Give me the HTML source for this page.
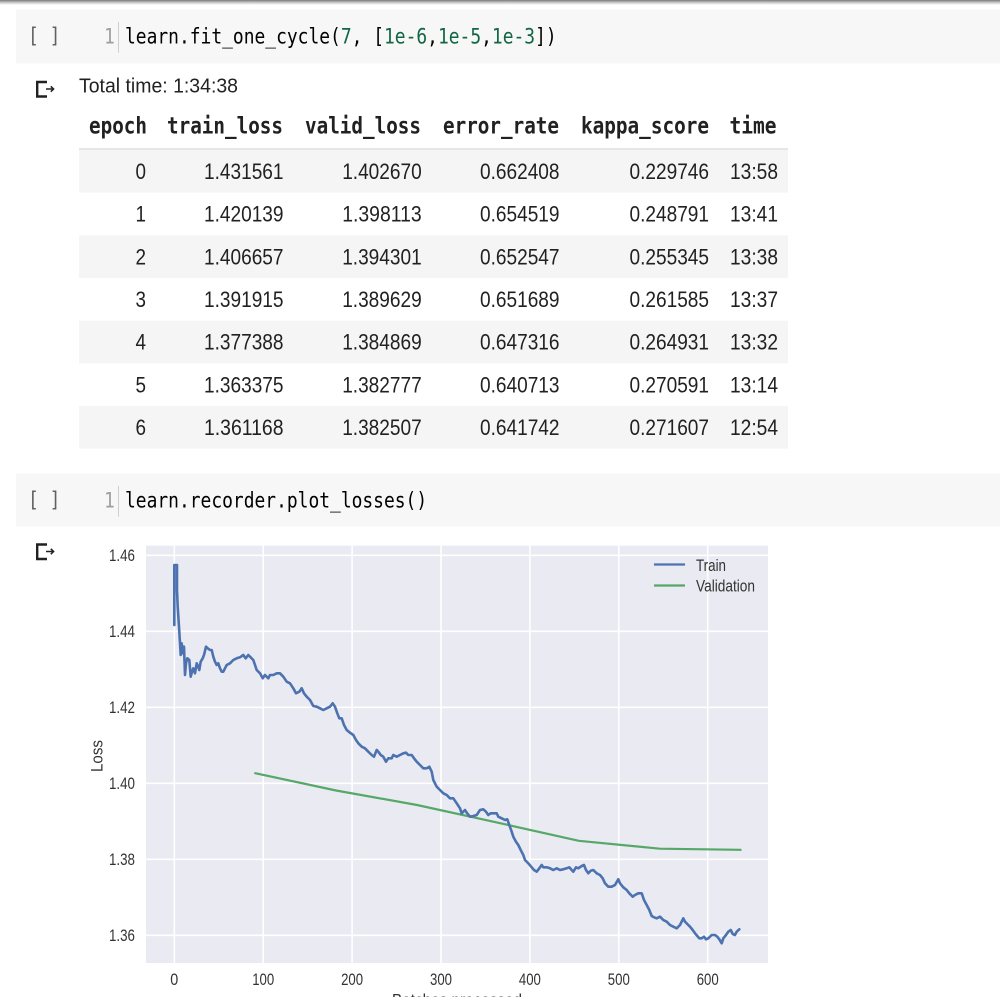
<!DOCTYPE html>
<html>
<head>
<meta charset="utf-8">
<style>
html,body{margin:0;padding:0;background:#fff;}
svg{display:block;}
.mono{font-family:"DejaVu Sans Mono","Liberation Mono",monospace;}
.sans{font-family:"Liberation Sans",Arial,sans-serif;}
</style>
</head>
<body>
<svg width="1000" height="997" viewBox="0 0 1000 997" xmlns="http://www.w3.org/2000/svg">
<defs>
<linearGradient id="sh" x1="0" y1="0" x2="0" y2="1">
<stop offset="0" stop-color="#7a7a7a"/>
<stop offset="0.5" stop-color="#c8c8c8"/>
<stop offset="1" stop-color="#ffffff"/>
</linearGradient>
</defs>
<rect x="0" y="0" width="1000" height="997" fill="#fff"/>
<!-- top shadow -->
<rect x="0" y="0" width="1000" height="5" fill="url(#sh)"/>

<!-- code cell 1 -->
<rect x="16" y="9.3" width="984" height="54" fill="#f7f7f7"/>
<text class="mono" x="0" y="0" font-size="21" fill="#616161" transform="translate(28,43) scale(0.854,1)">[ ]</text>
<text class="mono" x="0" y="0" font-size="21" fill="#9e9e9e" transform="translate(104,43.3) scale(0.854,1)">1</text>
<line x1="118.5" y1="21.7" x2="118.5" y2="52.7" stroke="#cfcfcf" stroke-width="1"/>
<text class="mono" x="0" y="0" font-size="21" fill="#000" transform="translate(125,43.3) scale(0.854,1)">learn.fit_one_cycle(<tspan fill="#116644">7</tspan>, [<tspan fill="#116644">1e-6</tspan>,<tspan fill="#116644">1e-5</tspan>,<tspan fill="#116644">1e-3</tspan>])</text>

<!-- output icon 1 -->
<path d="M47,82 L37.2,82 L37.2,96.5 L47,96.5" fill="none" stroke="#212121" stroke-width="2.4"/>
<path d="M46,89 L53.5,89 M50.8,86.3 L53.6,89 L50.8,91.7" fill="none" stroke="#212121" stroke-width="1.5"/>

<text class="sans" x="79" y="92.7" font-size="20" fill="#212121" textLength="159" lengthAdjust="spacingAndGlyphs">Total time: 1:34:38</text>

<!-- table -->
<rect x="79" y="150" width="709" height="42.67" fill="#f5f5f5"/>
<rect x="79" y="235.33" width="709" height="42.67" fill="#f5f5f5"/>
<rect x="79" y="320.67" width="709" height="42.67" fill="#f5f5f5"/>
<rect x="79" y="406" width="709" height="42.67" fill="#f5f5f5"/>
<line x1="79" y1="149" x2="788" y2="149" stroke="#dedede" stroke-width="1.5"/>

<g class="mono" font-size="23" font-weight="bold" fill="#212121">
<text x="89" y="133.3" textLength="58" lengthAdjust="spacingAndGlyphs">epoch</text>
<text x="167" y="133.3" textLength="116" lengthAdjust="spacingAndGlyphs">train_loss</text>
<text x="305" y="133.3" textLength="116" lengthAdjust="spacingAndGlyphs">valid_loss</text>
<text x="443" y="133.3" textLength="116" lengthAdjust="spacingAndGlyphs">error_rate</text>
<text x="581" y="133.3" textLength="128" lengthAdjust="spacingAndGlyphs">kappa_score</text>
<text x="729.5" y="133.3" textLength="47" lengthAdjust="spacingAndGlyphs">time</text>
</g>

<g class="sans" font-size="22" fill="#212121" text-anchor="end">
<text x="146" y="179" textLength="10.5" lengthAdjust="spacingAndGlyphs">0</text>
<text x="283.5" y="179" textLength="79.5" lengthAdjust="spacingAndGlyphs">1.431561</text>
<text x="421.7" y="179" textLength="79.5" lengthAdjust="spacingAndGlyphs">1.402670</text>
<text x="559.5" y="179" textLength="79.5" lengthAdjust="spacingAndGlyphs">0.662408</text>
<text x="709" y="179" textLength="79.5" lengthAdjust="spacingAndGlyphs">0.229746</text>
<text x="778" y="179" textLength="48" lengthAdjust="spacingAndGlyphs">13:58</text>

<text x="146" y="221.7" textLength="10.5" lengthAdjust="spacingAndGlyphs">1</text>
<text x="283.5" y="221.7" textLength="79.5" lengthAdjust="spacingAndGlyphs">1.420139</text>
<text x="421.7" y="221.7" textLength="79.5" lengthAdjust="spacingAndGlyphs">1.398113</text>
<text x="559.5" y="221.7" textLength="79.5" lengthAdjust="spacingAndGlyphs">0.654519</text>
<text x="709" y="221.7" textLength="79.5" lengthAdjust="spacingAndGlyphs">0.248791</text>
<text x="778" y="221.7" textLength="48" lengthAdjust="spacingAndGlyphs">13:41</text>

<text x="146" y="264.3" textLength="10.5" lengthAdjust="spacingAndGlyphs">2</text>
<text x="283.5" y="264.3" textLength="79.5" lengthAdjust="spacingAndGlyphs">1.406657</text>
<text x="421.7" y="264.3" textLength="79.5" lengthAdjust="spacingAndGlyphs">1.394301</text>
<text x="559.5" y="264.3" textLength="79.5" lengthAdjust="spacingAndGlyphs">0.652547</text>
<text x="709" y="264.3" textLength="79.5" lengthAdjust="spacingAndGlyphs">0.255345</text>
<text x="778" y="264.3" textLength="48" lengthAdjust="spacingAndGlyphs">13:38</text>

<text x="146" y="307" textLength="10.5" lengthAdjust="spacingAndGlyphs">3</text>
<text x="283.5" y="307" textLength="79.5" lengthAdjust="spacingAndGlyphs">1.391915</text>
<text x="421.7" y="307" textLength="79.5" lengthAdjust="spacingAndGlyphs">1.389629</text>
<text x="559.5" y="307" textLength="79.5" lengthAdjust="spacingAndGlyphs">0.651689</text>
<text x="709" y="307" textLength="79.5" lengthAdjust="spacingAndGlyphs">0.261585</text>
<text x="778" y="307" textLength="48" lengthAdjust="spacingAndGlyphs">13:37</text>

<text x="146" y="349.7" textLength="10.5" lengthAdjust="spacingAndGlyphs">4</text>
<text x="283.5" y="349.7" textLength="79.5" lengthAdjust="spacingAndGlyphs">1.377388</text>
<text x="421.7" y="349.7" textLength="79.5" lengthAdjust="spacingAndGlyphs">1.384869</text>
<text x="559.5" y="349.7" textLength="79.5" lengthAdjust="spacingAndGlyphs">0.647316</text>
<text x="709" y="349.7" textLength="79.5" lengthAdjust="spacingAndGlyphs">0.264931</text>
<text x="778" y="349.7" textLength="48" lengthAdjust="spacingAndGlyphs">13:32</text>

<text x="146" y="392.3" textLength="10.5" lengthAdjust="spacingAndGlyphs">5</text>
<text x="283.5" y="392.3" textLength="79.5" lengthAdjust="spacingAndGlyphs">1.363375</text>
<text x="421.7" y="392.3" textLength="79.5" lengthAdjust="spacingAndGlyphs">1.382777</text>
<text x="559.5" y="392.3" textLength="79.5" lengthAdjust="spacingAndGlyphs">0.640713</text>
<text x="709" y="392.3" textLength="79.5" lengthAdjust="spacingAndGlyphs">0.270591</text>
<text x="778" y="392.3" textLength="48" lengthAdjust="spacingAndGlyphs">13:14</text>

<text x="146" y="435" textLength="10.5" lengthAdjust="spacingAndGlyphs">6</text>
<text x="283.5" y="435" textLength="79.5" lengthAdjust="spacingAndGlyphs">1.361168</text>
<text x="421.7" y="435" textLength="79.5" lengthAdjust="spacingAndGlyphs">1.382507</text>
<text x="559.5" y="435" textLength="79.5" lengthAdjust="spacingAndGlyphs">0.641742</text>
<text x="709" y="435" textLength="79.5" lengthAdjust="spacingAndGlyphs">0.271607</text>
<text x="778" y="435" textLength="48" lengthAdjust="spacingAndGlyphs">12:54</text>
</g>

<!-- code cell 2 -->
<rect x="16" y="473.3" width="984" height="53.4" fill="#f7f7f7"/>
<text class="mono" x="0" y="0" font-size="21" fill="#616161" transform="translate(28,507) scale(0.854,1)">[ ]</text>
<text class="mono" x="0" y="0" font-size="21" fill="#9e9e9e" transform="translate(104,507.3) scale(0.854,1)">1</text>
<line x1="118.5" y1="485.7" x2="118.5" y2="516.7" stroke="#cfcfcf" stroke-width="1"/>
<text class="mono" x="0" y="0" font-size="21" fill="#000" transform="translate(125,507.3) scale(0.854,1)">learn.recorder.plot_losses()</text>

<!-- output icon 2 -->
<path d="M47,544.5 L37.2,544.5 L37.2,559 L47,559" fill="none" stroke="#212121" stroke-width="2.4"/>
<path d="M46,551.5 L53.5,551.5 M50.8,548.8 L53.6,551.5 L50.8,554.2" fill="none" stroke="#212121" stroke-width="1.5"/>

<!-- plot -->
<rect x="146" y="545.7" width="622" height="417.3" fill="#eaeaf2"/>
<g stroke="#ffffff" stroke-width="1.6">
<line x1="146" y1="555.3" x2="768" y2="555.3"/>
<line x1="146" y1="631.3" x2="768" y2="631.3"/>
<line x1="146" y1="707.3" x2="768" y2="707.3"/>
<line x1="146" y1="783.3" x2="768" y2="783.3"/>
<line x1="146" y1="859.3" x2="768" y2="859.3"/>
<line x1="146" y1="935.3" x2="768" y2="935.3"/>
<line x1="174.3" y1="545.7" x2="174.3" y2="963"/>
<line x1="263.2" y1="545.7" x2="263.2" y2="963"/>
<line x1="352.1" y1="545.7" x2="352.1" y2="963"/>
<line x1="441" y1="545.7" x2="441" y2="963"/>
<line x1="529.9" y1="545.7" x2="529.9" y2="963"/>
<line x1="618.8" y1="545.7" x2="618.8" y2="963"/>
<line x1="707.7" y1="545.7" x2="707.7" y2="963"/>
</g>

<!-- validation -->
<polyline fill="none" stroke="#55a868" stroke-width="2.2" stroke-linejoin="round" stroke-linecap="round"
points="255.2,773.2 336.1,790.5 417.0,805.0 497.9,822.7 578.8,840.8 659.7,848.7 740.6,849.8"/>

<!-- train -->
<polyline fill="none" stroke="#4c72b0" stroke-width="2.6" stroke-linejoin="round" stroke-linecap="round"
points="174.3,625 174.3,565 177,565 177,590 177.7,606.7 179,626.7 180,643.3 180.7,655 181.7,643.3 182.7,653.3 184,646.7 185,675 186,663.3 187.3,658.3 189.3,660 190.7,676.7 192,671.7 193.3,668.3 195,673.3 196.7,663.3 198.3,666.7 199.3,670 200.7,661.7 202.7,658.3 204,655 206,646.7 207.7,648.3 210,650 211.7,650 213.3,656.7 215,661.7 216.7,665 218.3,663.3 220,668.3 221.7,671.7 223.3,671.7 225,668.3 226.7,665 230,663.3 233.3,660 236.7,658.3 240,657.3 243.3,655 245.7,658.3 248.3,655 250,656.7 253.3,660 256.7,670 260,673.3 262.7,678.3 265,675 268.3,678.3 270,675 273.3,675 276.7,673.3 280,673.3 283.3,676.7 286.7,681.7 290,683.3 293.3,688.3 296,693.3 299.3,691.7 301.7,688.3 304,693.3 306.7,696.7 310,700 313.3,706 316.7,706.7 320,708.3 323.3,710 326.7,708.3 330,706.7 332.7,703.3 335,706.7 337.3,713.3 339.3,718.3 341.7,718.3 344,725 346.7,730 350,732.7 353.3,735 356,740 358.3,743.3 361.7,746.7 365,748.3 368.3,751.7 371.7,755 374,756.7 376.7,750 378.3,751.7 380.7,755 383.3,756.7 386,761.7 388.3,758.3 391.7,758.3 393.3,755 396.7,756.7 400,755 403.3,753.3 406,752.7 408.3,755 411.7,755 414,758.3 416.7,761.7 420,765 423.3,768.3 426.7,768.3 429.3,766.7 431.7,771.7 433.3,780 436.7,786.7 440,790 443.3,793.3 446.7,795 450,798.3 453.3,798.3 456.7,803.3 460,808.3 461.7,813.3 465,810 466.7,812.7 470,816.7 473.3,816 476.7,815 480,810 483.3,809.3 486,811.7 488.3,815 490.7,813.3 493.3,813.3 496.7,813.3 498.3,816.7 501.7,818.3 505,820 507.3,819.3 509.3,825 511.7,831.7 513.3,836.7 516,841.7 518.3,845 520.7,850 523.3,855 525,860 528.3,863.3 531.7,867.3 534,870 536.7,871.7 539.3,868.3 541.7,865 543.3,867.3 546.7,867.3 550,868.3 553.3,870 556.7,868.3 560,870 563.3,869.3 566.7,868.3 569.3,867.3 571.7,870 573.3,871.7 576,867.3 578.3,868.3 581.7,866 584,865 586,870 588.3,873.3 590.7,870.7 593.3,870 596.7,873.3 600,875 602.7,878.3 605,883.3 608.3,886.7 611.7,886.7 615,885 618.3,879.3 620,883.3 623.3,887.3 626.7,890 629.3,893.3 632.7,896.7 635,895 638.3,893.3 641.7,893.3 644,900 646.7,905 649.3,910 651.7,916 654,917.3 656.7,918.3 660,916.7 663.3,920 666.7,921.7 670,925 673.3,926.7 676.7,928.3 680,925 683.3,918.3 685,921.7 687.3,924 690,926.7 692.7,930 695,933.3 697.3,936 699.3,938.3 701.7,938.3 704,936.7 706,939.3 708.3,938.3 711.7,935 715,935 717.3,936.7 719.3,939.3 721.7,943.3 723.3,938.3 726,935 728.3,931.7 730.7,930 732.7,934 735,935 736.7,931.7 739.3,929.3"/>

<!-- legend -->
<line x1="654" y1="564.5" x2="685" y2="564.5" stroke="#4c72b0" stroke-width="2.2"/>
<line x1="654" y1="585.5" x2="685" y2="585.5" stroke="#55a868" stroke-width="2.2"/>
<g class="sans" font-size="16.5" fill="#333">
<text x="696" y="571" textLength="30" lengthAdjust="spacingAndGlyphs">Train</text>
<text x="696" y="591.7" textLength="59" lengthAdjust="spacingAndGlyphs">Validation</text>
</g>

<!-- y ticks -->
<g class="sans" font-size="16.3" fill="#333" text-anchor="end">
<text x="135" y="561.2" textLength="26" lengthAdjust="spacingAndGlyphs">1.46</text>
<text x="135" y="637.2" textLength="26" lengthAdjust="spacingAndGlyphs">1.44</text>
<text x="135" y="713.2" textLength="26" lengthAdjust="spacingAndGlyphs">1.42</text>
<text x="135" y="789.2" textLength="26" lengthAdjust="spacingAndGlyphs">1.40</text>
<text x="135" y="865.2" textLength="26" lengthAdjust="spacingAndGlyphs">1.38</text>
<text x="135" y="941.2" textLength="26" lengthAdjust="spacingAndGlyphs">1.36</text>
</g>

<!-- x ticks -->
<g class="sans" font-size="16.3" fill="#333" text-anchor="middle">
<text x="174.3" y="985" textLength="8" lengthAdjust="spacingAndGlyphs">0</text>
<text x="263.2" y="985" textLength="22" lengthAdjust="spacingAndGlyphs">100</text>
<text x="352.1" y="985" textLength="22" lengthAdjust="spacingAndGlyphs">200</text>
<text x="441" y="985" textLength="22" lengthAdjust="spacingAndGlyphs">300</text>
<text x="529.9" y="985" textLength="22" lengthAdjust="spacingAndGlyphs">400</text>
<text x="618.8" y="985" textLength="22" lengthAdjust="spacingAndGlyphs">500</text>
<text x="707.7" y="985" textLength="22" lengthAdjust="spacingAndGlyphs">600</text>
</g>

<!-- axis labels -->
<text class="sans" x="0" y="0" font-size="17" fill="#333" text-anchor="middle" textLength="32" lengthAdjust="spacingAndGlyphs" transform="translate(102.5,756) rotate(-90)">Loss</text>
<text class="sans" x="457" y="1005.5" font-size="17" fill="#333" text-anchor="middle" textLength="130" lengthAdjust="spacingAndGlyphs">Batches processed</text>
</svg>
</body>
</html>
